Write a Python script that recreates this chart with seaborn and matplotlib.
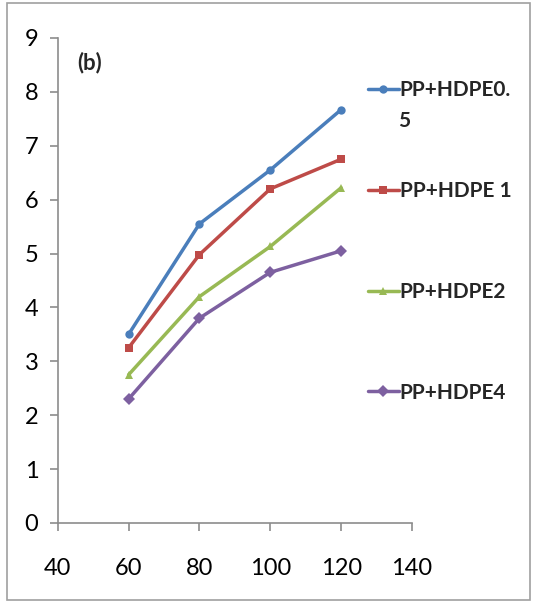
import numpy as np
import pandas as pd
import seaborn as sns
import matplotlib.pyplot as plt
from matplotlib.patches import Rectangle

# data
temps = [60, 80, 100, 120]
hdpe05 = [3.5, 5.55, 6.55, 7.67]
hdpe1 = [3.25, 4.98, 6.2, 6.75]
hdpe2 = [2.75, 4.2, 5.13, 6.22]
hdpe4 = [2.3, 3.8, 4.65, 5.05]
labels = ["PP+HDPE0.", "PP+HDPE 1", "PP+HDPE2", "PP+HDPE4"]

colors = ["#4A7EBB", "#BE4B48", "#98B954", "#7D60A0"]
markers = ["o", "s", "^", "D"]

rows = []
for lab, vals in zip(labels, [hdpe05, hdpe1, hdpe2, hdpe4]):
    for t, v in zip(temps, vals):
        rows.append({"T": t, "val": v, "series": lab})
df = pd.DataFrame(rows)

sns.set_style("white")
plt.rcParams["font.family"] = ["Lato", "DejaVu Sans"]

fig = plt.figure(figsize=(5.35, 6.08), dpi=100)
ax = fig.add_axes([0.108, 0.14, 0.662, 0.7975])

sns.lineplot(data=df, x="T", y="val", hue="series", style="series",
             palette=dict(zip(labels, colors)),
             markers=dict(zip(labels, markers)), dashes=False,
             markersize=6, markeredgewidth=0, linewidth=2.5, ax=ax)

ax.set_xlim(40, 140)
ax.set_ylim(0, 9)
ax.set_xticks(range(40, 141, 20))
ax.set_yticks(range(0, 10))
ax.set_xlabel("")
ax.set_ylabel("")
for s in ["top", "right"]:
    ax.spines[s].set_visible(False)
for s in ["left", "bottom"]:
    ax.spines[s].set_color("#8c8c8c")
    ax.spines[s].set_linewidth(1.2)
ax.tick_params(axis="both", direction="out", length=6, width=1.2,
               bottom=True, left=True,
               color="#8c8c8c", labelsize=17, labelcolor="black")
ax.tick_params(axis="x", pad=19)
ax.tick_params(axis="y", pad=8)

ax.text(0.055, 0.972, "(b)", transform=ax.transAxes, fontsize=16,
        fontweight="bold", va="top")

leg = ax.legend(loc="upper left", bbox_to_anchor=(0.652, 0.899),
                bbox_transform=fig.transFigure, frameon=False,
                prop={"weight": "bold", "size": 15}, labelspacing=3.88,
                handlelength=1.5, handletextpad=0.05)

# wrapped tail of the first legend label
fig.text(398 / 535, 1 - 121 / 608, "5", fontsize=15, fontweight="bold",
         va="center", ha="left")

fig.add_artist(Rectangle((7 / 535, 8 / 608), 523 / 535, 597 / 608,
                         transform=fig.transFigure, fill=False,
                         edgecolor="#a0a0a0", linewidth=1.2))

fig.savefig("out.png", dpi=100)
